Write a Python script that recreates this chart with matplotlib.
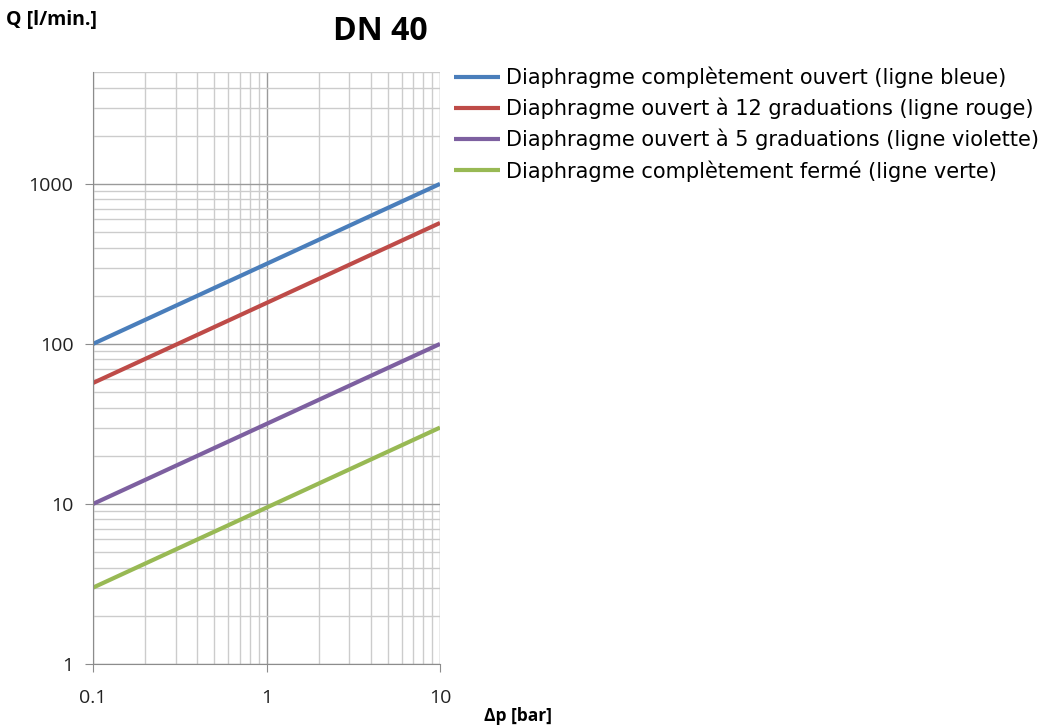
import numpy as np
import matplotlib
matplotlib.use("Agg")
import matplotlib.pyplot as plt
from matplotlib.ticker import LogLocator, FixedLocator, NullFormatter

# data (end points of each straight line in log-log)
dp = [0.1, 10]
q_open = [100, 1000]
q_12 = [57, 570]
q_5 = [10, 100]
q_closed = [3, 30]

labels = [
    "Diaphragme complètement ouvert (ligne bleue)",
    "Diaphragme ouvert à 12 graduations (ligne rouge)",
    "Diaphragme ouvert à 5 graduations (ligne violette)",
    "Diaphragme complètement fermé (ligne verte)",
]
colors = ["#4a7ebb", "#be4b48", "#7d60a0", "#98b954"]
series = [q_open, q_12, q_5, q_closed]

fig = plt.figure(figsize=(10.45, 7.27), dpi=100)
ax = fig.add_axes([93 / 1045, 1 - 664 / 727, (440 - 93) / 1045, (664 - 72) / 727])

for q, c, lab in zip(series, colors, labels):
    ax.plot(dp, q, color=c, lw=3, label=lab, solid_capstyle="butt")

ax.set_xscale("log")
ax.set_yscale("log")
ax.set_xlim(0.1, 10)
ax.set_ylim(1, 5000)

ax.xaxis.set_major_locator(FixedLocator([0.1, 1, 10]))
ax.yaxis.set_major_locator(FixedLocator([1, 10, 100, 1000]))
ax.xaxis.set_minor_locator(LogLocator(base=10, subs=np.arange(2, 10)))
ax.yaxis.set_minor_locator(LogLocator(base=10, subs=np.arange(2, 10)))
ax.xaxis.set_minor_formatter(NullFormatter())
ax.yaxis.set_minor_formatter(NullFormatter())
ax.set_xticklabels(["0.1", "1", "10"])
ax.set_yticklabels(["1", "10", "100", "1000"])

ax.grid(which="major", color="#9a9a9a", lw=1.0)
ax.grid(which="minor", color="#cccccc", lw=1.0)
ax.set_axisbelow(True)

for s in ["top", "right"]:
    ax.spines[s].set_visible(False)
for s in ["left", "bottom"]:
    ax.spines[s].set_color("#8c8c8c")
ax.tick_params(which="major", direction="out", length=6, color="#8c8c8c",
               labelsize=14, labelcolor="#222222")
ax.tick_params(axis="x", which="major", pad=12)
ax.tick_params(axis="y", which="major", pad=8)
ax.tick_params(which="minor", length=0)
for t in ax.get_xticklabels() + ax.get_yticklabels():
    t.set_fontfamily("Open Sans")

fig.text(380 / 1045, 1 - 32 / 727, "DN 40", ha="center", va="center",
         fontsize=23, fontweight="bold", family="Open Sans")
fig.text(6 / 1045, 1 - 20 / 727, "Q [l/min.]", ha="left", va="center",
         fontsize=14, fontweight="bold", family="Open Sans")
fig.text(518 / 1045, 1 - 716 / 727, "Δp [bar]", ha="center", va="center",
         fontsize=12.5, fontweight="bold", family="Open Sans")

fig.legend(loc="upper left", bbox_to_anchor=(446 / 1045, 1 - 58 / 727),
           frameon=False, handlelength=2.2, handletextpad=0.3,
           labelspacing=0.47, borderaxespad=0,
           prop={"family": "DejaVu Sans", "size": 15})

fig.savefig("out.png", dpi=100)
